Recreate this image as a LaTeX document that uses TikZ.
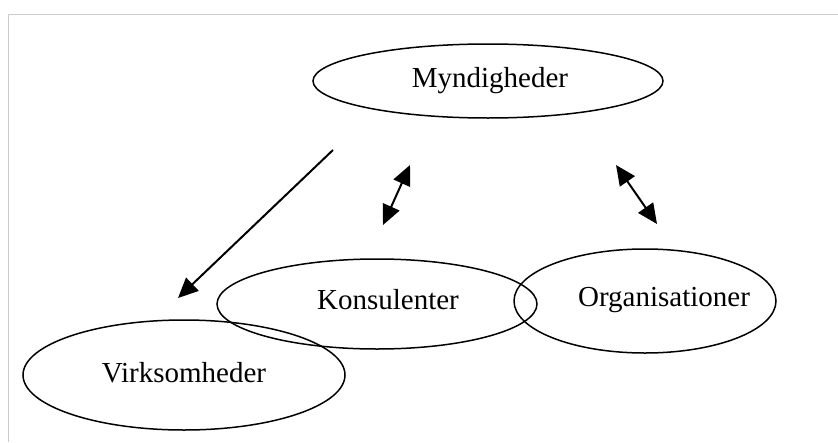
\documentclass[tikz,border=0pt]{standalone}
\usepackage{fontspec}
\setmainfont{Liberation Serif}
\usetikzlibrary{arrows.meta}
\begin{document}
\begin{tikzpicture}[x=1pt,y=-1pt,
  label/.style={font=\fontsize{29}{34}\selectfont,inner sep=0pt},
  ring/.style={line width=1.5pt},
  flow/.style={line width=2pt,-{Triangle[length=20pt,width=18pt]}},
  mutual/.style={line width=2pt,{Triangle[length=20pt,width=18pt]}-{Triangle[length=20pt,width=18pt]}}]
  \useasboundingbox (0,0) rectangle (838,442);
  % frame
  \draw[gray!40,line width=1.2pt] (8.5,442) -- (8.5,14.5) -- (838,14.5);
  % actors
  \draw[ring] (488,81) ellipse [x radius=175, y radius=37];
  \node[label] (myn) at (490,81) {Myndigheder};
  \draw[ring] (184,375) ellipse [x radius=161, y radius=55];
  \node[label] (virk) at (184,373) {Virksomheder};
  \draw[ring] (377,304) ellipse [x radius=160, y radius=45];
  \node[label] (kons) at (388,300) {Konsulenter};
  \draw[ring] (645,301) ellipse [x radius=131, y radius=52];
  \node[label] (org) at (664,300) {Organisationer};
  % relations
  \coordinate (a1) at (333,150);
  \coordinate (a2) at (178,298);
  \coordinate (b1) at (410,165);
  \coordinate (b2) at (383,225);
  \coordinate (c1) at (616,165);
  \coordinate (c2) at (657,224);
  \draw[flow] (a1) -- (a2);
  \draw[mutual] (b1) -- (b2);
  \draw[mutual] (c1) -- (c2);
\end{tikzpicture}
\end{document}
